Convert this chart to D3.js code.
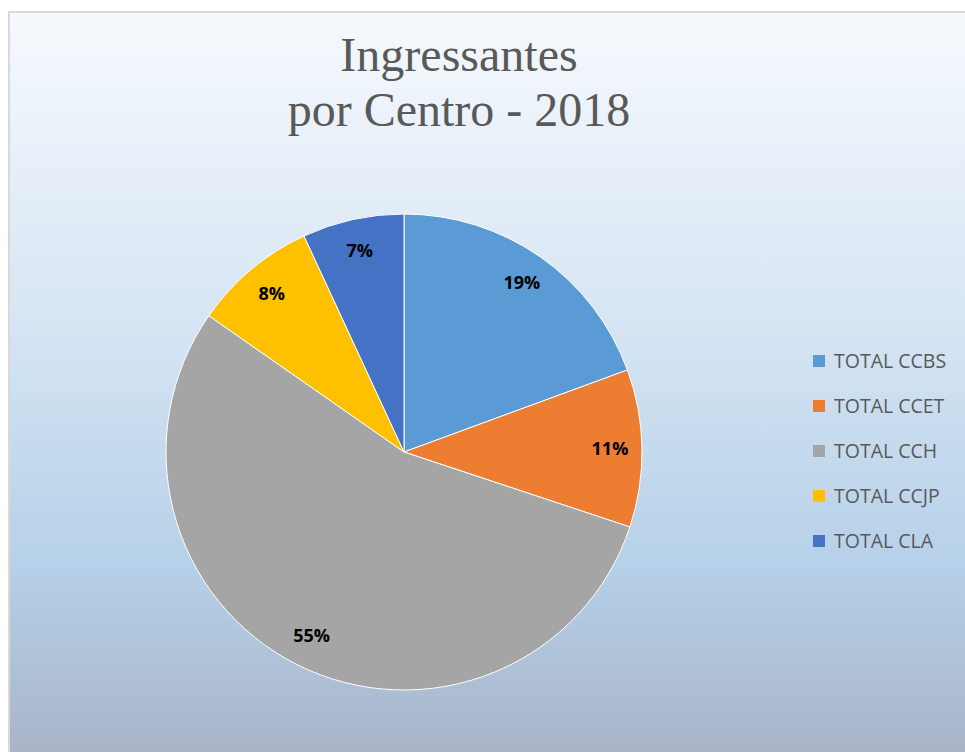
<!DOCTYPE html>
<html>
<head>
<meta charset="utf-8">
<script src="https://cdn.jsdelivr.net/npm/d3@7"></script>
<style>
  body { margin: 0; background: #fff; }
  svg { display: block; }
</style>
</head>
<body>
<svg id="chart"></svg>
<script>
const categories = ["TOTAL CCBS", "TOTAL CCET", "TOTAL CCH", "TOTAL CCJP", "TOTAL CLA"];
const values = [19.4, 10.7, 54.6, 8.4, 6.9];
const colors = ["#5b9bd5", "#ed7d31", "#a5a5a5", "#ffc000", "#4472c4"];
const titleLines = ["Ingressantes", "por Centro - 2018"];

const width = 965, height = 752;
const svg = d3.select("#chart").attr("width", width).attr("height", height);

// background gradient
const defs = svg.append("defs");
const grad = defs.append("linearGradient")
  .attr("id", "bg").attr("x1", 0).attr("y1", 0).attr("x2", 0).attr("y2", 1);
grad.append("stop").attr("offset", "0%").attr("stop-color", "#f6f9fd");
grad.append("stop").attr("offset", "40%").attr("stop-color", "#d8e6f4");
grad.append("stop").attr("offset", "75%").attr("stop-color", "#b5d0e8");
grad.append("stop").attr("offset", "100%").attr("stop-color", "#a9b4c8");

svg.append("rect")
  .attr("x", 9).attr("y", 12)
  .attr("width", width - 8).attr("height", height - 10)
  .attr("fill", "url(#bg)")
  .attr("stroke", "#d9d9d9")
  .attr("stroke-width", 2);

// title
svg.append("text")
  .attr("x", 458).attr("y", 71)
  .attr("text-anchor", "middle")
  .attr("font-family", "Liberation Serif, Times New Roman, serif")
  .attr("font-size", 48)
  .attr("fill", "#595959")
  .selectAll("tspan")
  .data(titleLines)
  .enter().append("tspan")
  .attr("x", 459)
  .attr("dy", (d, i) => i === 0 ? 0 : 55)
  .text(d => d);

// pie
const cx = 404, cy = 452, r = 238;
const total = d3.sum(values);
const pie = d3.pie().sort(null).value(d => d);
const arcs = pie(values);
const arc = d3.arc().innerRadius(0).outerRadius(r);
const labelArc = d3.arc().innerRadius(206).outerRadius(206);

const g = svg.append("g").attr("transform", `translate(${cx},${cy})`);

g.selectAll("path")
  .data(arcs)
  .enter().append("path")
  .attr("d", arc)
  .attr("fill", (d, i) => colors[i])
  .attr("stroke", "#ffffff")
  .attr("stroke-width", 1);

g.selectAll(".label")
  .data(arcs)
  .enter().append("text")
  .attr("class", "label")
  .attr("transform", d => `translate(${labelArc.centroid(d)})`)
  .attr("text-anchor", "middle")
  .attr("dy", "0.35em")
  .attr("font-family", "Open Sans, Liberation Sans, sans-serif")
  .attr("font-weight", "bold")
  .attr("font-size", 18)
  .attr("fill", "#000")
  .text(d => Math.round(d.value / total * 100) + "%");

// legend
const legend = svg.selectAll(".legend")
  .data(categories)
  .enter().append("g")
  .attr("class", "legend")
  .attr("transform", (d, i) => `translate(813,${361 + i * 45})`);

legend.append("rect")
  .attr("x", 0).attr("y", -6)
  .attr("width", 12).attr("height", 12)
  .attr("fill", (d, i) => colors[i]);

legend.append("text")
  .attr("x", 21)
  .attr("dy", "0.35em")
  .attr("font-family", "Open Sans, Liberation Sans, sans-serif")
  .attr("font-size", 19.5)
  .attr("fill", "#595959")
  .text(d => d);
</script>
</body>
</html>
